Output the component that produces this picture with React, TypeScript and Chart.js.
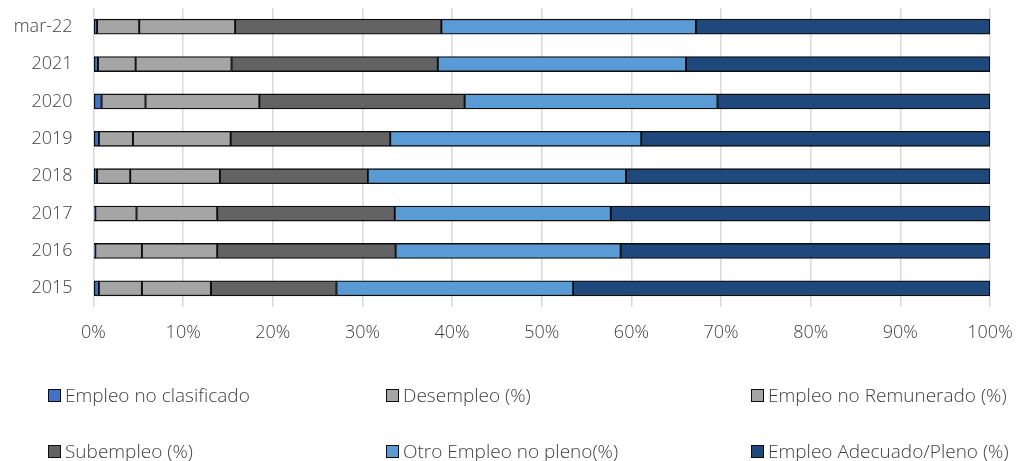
import React, { useEffect, useRef } from "react";
import { Chart, registerables } from "chart.js";

Chart.register(...registerables);

const categories = ["mar-22", "2021", "2020", "2019", "2018", "2017", "2016", "2015"];

const noClasificado = [0.4, 0.5, 0.9, 0.6, 0.4, 0.2, 0.2, 0.6];
const desempleo = [4.7, 4.2, 4.9, 3.8, 3.7, 4.6, 5.2, 4.8];
const noRemunerado = [10.7, 10.7, 12.7, 10.9, 10.0, 9.0, 8.4, 7.7];
const subempleo = [23.0, 23.0, 22.9, 17.8, 16.5, 19.8, 19.9, 14.0];
const otroNoPleno = [28.4, 27.7, 28.2, 28.0, 28.8, 24.1, 25.1, 26.4];
const adecuado = [32.8, 33.9, 30.4, 38.9, 40.6, 42.3, 41.2, 46.5];

const xTicks = [0, 10, 20, 30, 40, 50, 60, 70, 80, 90, 100];

const seriesNames = [
  "Empleo no clasificado",
  "Desempleo (%)",
  "Empleo no Remunerado (%)",
  "Subempleo (%)",
  "Otro Empleo no pleno(%)",
  "Empleo Adecuado/Pleno (%)",
];
const seriesColors = ["#4472C4", "#A5A5A5", "#A5A5A5", "#636363", "#5B9BD5", "#1F497D"];
const seriesData = [noClasificado, desempleo, noRemunerado, subempleo, otroNoPleno, adecuado];

const FONT = "'Open Sans', sans-serif";
const TEXT = "#404040";

export default function App() {
  const ref = useRef<HTMLCanvasElement | null>(null);

  useEffect(() => {
    if (!ref.current) return;
    const chart = new Chart(ref.current, {
      type: "bar",
      data: {
        labels: categories,
        datasets: seriesNames.map((name, i) => ({
          label: name,
          data: seriesData[i],
          backgroundColor: seriesColors[i],
          borderColor: "#0d0d0d",
          borderWidth: 1.3,
          borderSkipped: false,
          barThickness: 15,
        })),
      },
      options: {
        indexAxis: "y",
        animation: false,
        responsive: false,
        maintainAspectRatio: false,
        layout: { padding: { top: 8, right: 40, bottom: 109, left: 0 } },
        plugins: { legend: { display: false }, tooltip: { enabled: false } },
        scales: {
          x: {
            stacked: true,
            min: 0,
            max: 100,
            afterBuildTicks: (s: any) => {
              s.ticks = xTicks.map((v) => ({ value: v }));
            },
            afterFit: (s: any) => {
              s.height = 45;
              s.paddingTop = 0;
              s.paddingBottom = 0;
            },
            ticks: {
              callback: (v: any) => v + "%",
              color: TEXT,
              font: { family: FONT, size: 18, weight: 300 },
              padding: 15,
            },
            grid: { color: "#d9d9d9", lineWidth: 1.5, drawTicks: false },
            border: { display: false },
          },
          y: {
            stacked: true,
            afterFit: (s: any) => {
              s.width = 93.5;
              s.paddingTop = 0;
              s.paddingBottom = 0;
            },
            ticks: {
              color: TEXT,
              font: { family: FONT, size: 18, weight: 300 },
              padding: 21,
            },
            grid: { display: false, drawTicks: false },
            border: { display: false },
          },
        },
      },
    });
    return () => chart.destroy();
  }, []);

  const colX = [48, 386, 751];
  const rowY = [395, 451];

  return (
    <div style={{ position: "fixed", left: 0, top: 0, width: 1030, height: 461, background: "#fff" }}>
      <canvas ref={ref} width={1030} height={461} style={{ position: "absolute", left: 0, top: 0 }} />
      {seriesNames.map((name, i) => {
        const col = i % 3;
        const row = Math.floor(i / 3);
        return (
          <div
            key={name}
            style={{
              position: "absolute",
              left: colX[col],
              top: rowY[row] - 13,
              height: 26,
              display: "flex",
              alignItems: "center",
              fontFamily: FONT,
              fontWeight: 300,
              fontSize: 19,
              color: TEXT,
              whiteSpace: "nowrap",
            }}
          >
            <span
              style={{
                display: "inline-block",
                width: 11,
                height: 11,
                background: seriesColors[i],
                border: "1px solid #0d0d0d",
                marginRight: 4,
              }}
            />
            {name}
          </div>
        );
      })}
    </div>
  );
}
